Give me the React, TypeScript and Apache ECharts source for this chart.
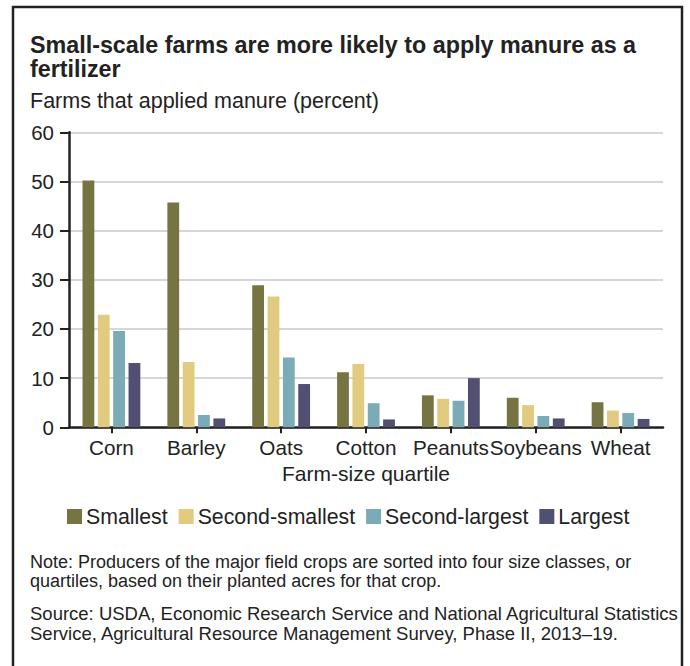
import React, { useEffect, useRef } from "react";
import * as echarts from "echarts";

// Crops on the category axis
const crops = ["Corn", "Barley", "Oats", "Cotton", "Peanuts", "Soybeans", "Wheat"];

// Share of farms that applied manure, by farm-size quartile (percent)
const smallest = [50.2, 45.7, 28.9, 11.2, 6.5, 6.0, 5.1];
const secondSmallest = [22.9, 13.3, 26.6, 12.9, 5.8, 4.5, 3.4];
const secondLargest = [19.6, 2.5, 14.2, 4.9, 5.4, 2.3, 2.9];
const largest = [13.1, 1.8, 8.8, 1.6, 10.0, 1.8, 1.7];

const quartileNames = ["Smallest", "Second-smallest", "Second-largest", "Largest"];
const quartileColors = ["#767442", "#E0CB81", "#7BABB6", "#514F72"];

const yTicks = { min: 0, max: 60, interval: 10 };

const FONT = "'Liberation Sans', Arial, Helvetica, sans-serif";
const INK = "#222222";

export default function App() {
  const ref = useRef<HTMLDivElement>(null);

  useEffect(() => {
    if (!ref.current) return;
    const chart = echarts.init(ref.current, undefined, { renderer: "svg" });
    const seriesData = [smallest, secondSmallest, secondLargest, largest];

    chart.setOption({
      animation: false,
      backgroundColor: "#ffffff",
      textStyle: { fontFamily: FONT },
      title: [
        {
          text: "Small-scale farms are more likely to apply manure as a\nfertilizer",
          left: 30,
          top: 33,
          padding: 0,
          textStyle: { fontFamily: FONT, fontSize: 23.3, fontWeight: "bold", lineHeight: 24, color: INK },
        },
        {
          text: "Farms that applied manure (percent)",
          left: 30,
          top: 90,
          padding: 0,
          textStyle: { fontFamily: FONT, fontSize: 21.5, fontWeight: "normal", color: INK },
        },
        {
          text:
            "Note: Producers of the major field crops are sorted into four size classes, or\nquartiles, based on their planted acres for that crop.",
          left: 30,
          top: 552,
          padding: 0,
          textStyle: { fontFamily: FONT, fontSize: 18, fontWeight: "normal", lineHeight: 19, color: INK },
        },
        {
          text:
            "Source: USDA, Economic Research Service and National Agricultural Statistics\nService, Agricultural Resource Management Survey, Phase II, 2013\u201319.",
          left: 30,
          top: 603,
          padding: 0,
          textStyle: { fontFamily: FONT, fontSize: 18.5, fontWeight: "normal", lineHeight: 20, color: INK },
        },
      ],
      legend: {
        data: quartileNames,
        left: 67,
        top: 506,
        padding: 0,
        icon: "rect",
        itemWidth: 15,
        itemHeight: 15,
        itemGap: 11,
        textStyle: { fontFamily: FONT, fontSize: 21.3, color: INK, padding: [0, 0, 0, -1] },
      },
      grid: { left: 69, right: 27, top: 132.3, bottom: 238.7, containLabel: false },
      xAxis: {
        type: "category",
        data: crops,
        name: "Farm-size quartile",
        nameLocation: "middle",
        nameGap: 36,
        nameTextStyle: { fontFamily: FONT, fontSize: 21, color: INK },
        axisLine: { show: true, lineStyle: { color: INK, width: 2.5 } },
        axisTick: { show: true, alignWithLabel: true, length: 6, lineStyle: { color: INK, width: 2 } },
        axisLabel: { fontFamily: FONT, fontSize: 20.7, color: INK, margin: 10, interval: 0 },
        splitLine: { show: false },
      },
      yAxis: {
        type: "value",
        min: yTicks.min,
        max: yTicks.max,
        interval: yTicks.interval,
        axisLine: { show: true, lineStyle: { color: INK, width: 2.5 } },
        axisTick: { show: true, length: 9, lineStyle: { color: INK, width: 2 } },
        axisLabel: { fontFamily: FONT, fontSize: 20.5, color: INK, margin: 15 },
        splitLine: { show: true, lineStyle: { color: "#c9c9c9", width: 1.5 } },
      },
      series: quartileNames.map((name, i) => ({
        name,
        type: "bar",
        data: seriesData[i],
        barWidth: 11.8,
        barGap: "30%",
        itemStyle: { color: quartileColors[i] },
        emphasis: { disabled: true },
      })),
      graphic: [
        {
          type: "rect",
          shape: { x: 13, y: 7, width: 669, height: 720 },
          style: { fill: "none", stroke: INK, lineWidth: 2.5 },
          silent: true,
        },
      ],
    });

    return () => chart.dispose();
  }, []);

  return (
    <div
      ref={ref}
      style={{ position: "absolute", left: 0, top: 0, width: 690, height: 666 }}
    />
  );
}
